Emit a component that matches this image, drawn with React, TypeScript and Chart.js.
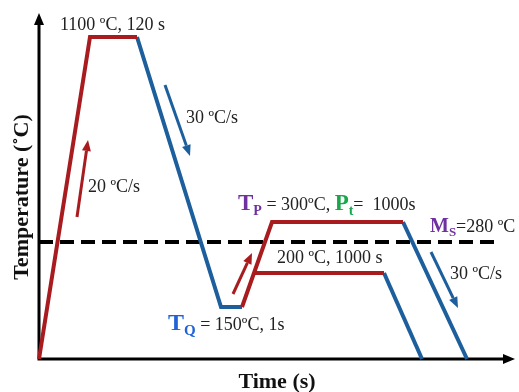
import React, { useEffect, useRef } from "react";
import { Chart, registerables } from "chart.js";

Chart.register(...registerables);

// Schematic axes (arbitrary units, no tick values shown)
const TIME_MAX = 476;
const TEMP_MAX = 346;

// Process segments: schematic time / temperature positions
const heatTime = [0, 51, 98];
const heatTemp = [0, 322, 322];
const quenchTime = [98, 182, 203];
const quenchTemp = [322, 52, 52];
const partitionTime = [203, 233, 364];
const partitionTemp = [52, 137, 137];
const lowPartitionTime = [215, 345];
const lowPartitionTemp = [86, 86];
const coolHighTime = [364, 428];
const coolHighTemp = [137, 0];
const coolLowTime = [345, 383];
const coolLowTemp = [86, 0];
const msTime = [0, 461];
const msTemp = [117, 117];

// Rate arrows: [t0, T0, t1, T1]
const arrowRed1 = [38, 142, 49, 219];
const arrowBlue1 = [126, 274, 151, 203];
const arrowRed2 = [194, 65, 213, 106];
const arrowBlue2 = [392, 107, 419, 51];

const RED = "#a81c1f";
const BLUE = "#1d5f9c";
const PURPLE = "#7030a0";
const GREEN = "#17a84b";
const TQBLUE = "#1f63d6";
const TXT = "#222222";
const SERIF = "'Liberation Serif', 'Times New Roman', serif";

type Seg = { t: string; size: number; bold?: boolean; color?: string; dy?: number };
type Label = { x: number; y: number; segs: Seg[] };

const labels: Label[] = [
  { x: 21, y: 329, segs: [{ t: "1100 ºC, 120 s", size: 18 }] },
  { x: 147, y: 236, segs: [{ t: "30 ºC/s", size: 18 }] },
  { x: 49, y: 167, segs: [{ t: "20 ºC/s", size: 18 }] },
  {
    x: 199,
    y: 149,
    segs: [
      { t: "T", size: 23, bold: true, color: PURPLE },
      { t: "P", size: 14, bold: true, color: PURPLE, dy: 5 },
      { t: " = 300ºC, ", size: 18 },
      { t: "P", size: 23, bold: true, color: GREEN },
      { t: "t", size: 14, bold: true, color: GREEN, dy: 5 },
      { t: "=  1000s", size: 18 },
    ],
  },
  {
    x: 391,
    y: 127,
    segs: [
      { t: "M", size: 20, bold: true, color: PURPLE },
      { t: "S", size: 13, bold: true, color: PURPLE, dy: 4 },
      { t: "=280 ºC", size: 18 },
    ],
  },
  { x: 238, y: 96, segs: [{ t: "200 ºC, 1000 s", size: 18 }] },
  { x: 411, y: 80, segs: [{ t: "30 ºC/s", size: 18 }] },
  {
    x: 129,
    y: 29,
    segs: [
      { t: "T", size: 24, bold: true, color: TQBLUE },
      { t: "Q", size: 15, bold: true, color: TQBLUE, dy: 5 },
      { t: " = 150ºC, 1s", size: 18 },
    ],
  },
];

const X_TITLE = "Time (s)";
const Y_TITLE = "Temperature (˚C)";

function pts(xs: number[], ys: number[]) {
  return xs.map((x, i) => ({ x, y: ys[i] }));
}

function seg(label: string, xs: number[], ys: number[], color: string, width = 4, dash: number[] = []) {
  return {
    label,
    data: pts(xs, ys),
    showLine: true,
    borderColor: color,
    backgroundColor: color,
    borderWidth: width,
    borderDash: dash,
    pointRadius: 0,
    tension: 0,
    clip: false as any,
  };
}

const overlay = {
  id: "overlay",
  beforeDatasetsDraw(chart: any) {
    const { ctx } = chart;
    const xs = chart.scales.x;
    const ys = chart.scales.y;
    const ox = xs.getPixelForValue(0);
    const oy = ys.getPixelForValue(0);
    const tx = xs.getPixelForValue(TIME_MAX);
    const ty = ys.getPixelForValue(TEMP_MAX);
    ctx.save();
    ctx.strokeStyle = "#000";
    ctx.fillStyle = "#000";
    ctx.lineWidth = 3;
    ctx.beginPath();
    ctx.moveTo(ox, oy);
    ctx.lineTo(ox, ty + 8);
    ctx.moveTo(ox - 1.5, oy);
    ctx.lineTo(tx - 8, oy);
    ctx.stroke();
    ctx.beginPath();
    ctx.moveTo(ox, ty);
    ctx.lineTo(ox - 5, ty + 12);
    ctx.lineTo(ox + 5, ty + 12);
    ctx.closePath();
    ctx.fill();
    ctx.beginPath();
    ctx.moveTo(tx, oy);
    ctx.lineTo(tx - 12, oy - 5);
    ctx.lineTo(tx - 12, oy + 5);
    ctx.closePath();
    ctx.fill();
    ctx.restore();
  },
  afterDatasetsDraw(chart: any) {
    const { ctx } = chart;
    const xs = chart.scales.x;
    const ys = chart.scales.y;
    const arrows: [number[], string][] = [
      [arrowRed1, RED],
      [arrowBlue1, BLUE],
      [arrowRed2, RED],
      [arrowBlue2, BLUE],
    ];
    ctx.save();
    for (const [a, c] of arrows) {
      const x0 = xs.getPixelForValue(a[0]);
      const y0 = ys.getPixelForValue(a[1]);
      const x1 = xs.getPixelForValue(a[2]);
      const y1 = ys.getPixelForValue(a[3]);
      const ang = Math.atan2(y1 - y0, x1 - x0);
      const hl = 11;
      const hw = 4.5;
      const bx = x1 - hl * Math.cos(ang);
      const by = y1 - hl * Math.sin(ang);
      ctx.strokeStyle = c;
      ctx.fillStyle = c;
      ctx.lineWidth = 3;
      ctx.beginPath();
      ctx.moveTo(x0, y0);
      ctx.lineTo(bx, by);
      ctx.stroke();
      ctx.beginPath();
      ctx.moveTo(x1, y1);
      ctx.lineTo(bx + hw * Math.sin(ang), by - hw * Math.cos(ang));
      ctx.lineTo(bx - hw * Math.sin(ang), by + hw * Math.cos(ang));
      ctx.closePath();
      ctx.fill();
    }
    ctx.textBaseline = "alphabetic";
    ctx.textAlign = "left";
    for (const l of labels) {
      let px = xs.getPixelForValue(l.x);
      const py = ys.getPixelForValue(l.y);
      for (const s of l.segs) {
        ctx.font = `${s.bold ? "bold " : ""}${s.size}px ${SERIF}`;
        ctx.fillStyle = s.color || TXT;
        ctx.fillText(s.t, px, py + (s.dy || 0));
        px += ctx.measureText(s.t).width;
      }
    }
    ctx.fillStyle = "#111";
    ctx.font = `bold 22px ${SERIF}`;
    ctx.textAlign = "center";
    ctx.fillText(X_TITLE, xs.getPixelForValue(238), ys.getPixelForValue(-29));
    ctx.translate(xs.getPixelForValue(-17), ys.getPixelForValue(162));
    ctx.rotate(-Math.PI / 2);
    ctx.textBaseline = "middle";
    ctx.fillText(Y_TITLE, 0, 0);
    ctx.restore();
  },
};

export default function App() {
  const ref = useRef<HTMLCanvasElement>(null);
  useEffect(() => {
    document.body.style.margin = "0";
    const chart = new Chart(ref.current as HTMLCanvasElement, {
      type: "scatter",
      data: {
        datasets: [
          seg("Heating", heatTime, heatTemp, RED),
          seg("Partitioning", partitionTime, partitionTemp, RED),
          seg("Partitioning 200", lowPartitionTime, lowPartitionTemp, RED),
          seg("Quench", quenchTime, quenchTemp, BLUE),
          seg("Final cool", coolHighTime, coolHighTemp, BLUE),
          seg("Final cool 200", coolLowTime, coolLowTemp, BLUE),
          seg("Ms", msTime, msTemp, "#000", 4, [14, 7]),
        ] as any,
      },
      options: {
        responsive: false,
        animation: false,
        devicePixelRatio: 1,
        layout: { padding: { left: 39, right: 4, top: 13, bottom: 33 } },
        plugins: { legend: { display: false }, tooltip: { enabled: false } },
        scales: {
          x: { type: "linear", min: 0, max: TIME_MAX, display: false },
          y: { type: "linear", min: 0, max: TEMP_MAX, display: false },
        },
      },
      plugins: [overlay],
    });
    return () => chart.destroy();
  }, []);
  return (
    <div style={{ position: "fixed", left: 0, top: 0, width: 519, height: 392, background: "#fff" }}>
      <canvas ref={ref} width={519} height={392} />
    </div>
  );
}
